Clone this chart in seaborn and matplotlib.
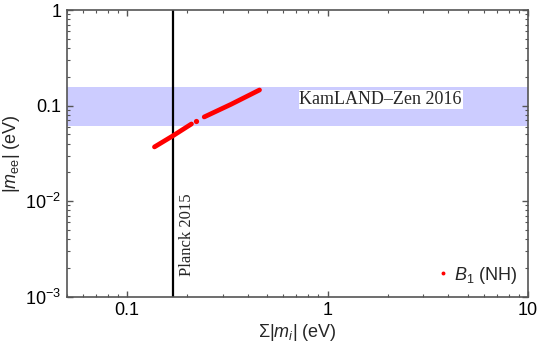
import numpy as np
import pandas as pd
import matplotlib
matplotlib.use("Agg")
import matplotlib.pyplot as plt
from matplotlib.lines import Line2D
from matplotlib.ticker import FixedLocator, FixedFormatter, LogLocator, NullFormatter
import seaborn as sns

# ── Data ───────────────────────────────────────────────────────────────────────
# red allowed region B1 (NH), read as two branches plus an isolated point
SUM_M_BRANCH1 = [0.137, 0.17, 0.2096]
MEE_BRANCH1   = [0.0369, 0.0485, 0.0642]
SUM_M_BRANCH2 = [0.2426, 0.33, 0.458]
MEE_BRANCH2   = [0.076, 0.103, 0.1456]
SUM_M_DOT     = [0.221]
MEE_DOT       = [0.069]

KAMLAND_LOW, KAMLAND_HIGH = 0.061, 0.155
PLANCK_LIMIT = 0.17

X_TICKS  = [0.1, 1, 10]
X_LABELS = ["0.1", "1", "10"]
Y_TICKS  = [1e-3, 1e-2, 0.1, 1]
Y_LABELS = ["10$^{-3}$", "10$^{-2}$", "0.1", "1"]

# ── Style ──────────────────────────────────────────────────────────────────────
sns.set_theme(style="ticks")
plt.rcParams.update({
    "font.family": ["Liberation Sans", "DejaVu Sans"],
    "mathtext.fontset": "custom",
    "mathtext.rm": "Liberation Sans",
    "mathtext.it": "Liberation Sans:italic",
    "axes.edgecolor": "#555555",
    "xtick.color": "#555555", "ytick.color": "#555555",
    "xtick.labelcolor": "black", "ytick.labelcolor": "black",
})

df = pd.DataFrame({
    "sum_m": SUM_M_BRANCH1 + SUM_M_BRANCH2,
    "mee":   MEE_BRANCH1 + MEE_BRANCH2,
    "branch": [1] * len(SUM_M_BRANCH1) + [2] * len(SUM_M_BRANCH2),
})

fig = plt.figure(figsize=(5.4, 3.49), dpi=100)
ax = fig.add_axes([0.1235, 0.150, 0.8543, 0.8213])
ax.set_xscale("log"); ax.set_yscale("log")
ax.set_xlim(0.05, 10); ax.set_ylim(1e-3, 1)

ax.axhspan(KAMLAND_LOW, KAMLAND_HIGH, color="#ccccff", lw=0, zorder=0)
ax.axvline(PLANCK_LIMIT, color="black", lw=1.6, zorder=2)

sns.lineplot(data=df, x="sum_m", y="mee", units="branch", estimator=None,
             sort=False, color="red", lw=3.4, ax=ax, zorder=3,
             solid_capstyle="round")
sns.scatterplot(x=SUM_M_DOT, y=MEE_DOT, color="red", s=14, linewidth=0,
                ax=ax, zorder=3)

ax.text(1.84, 0.116, "KamLAND\u2013Zen 2016", family="Liberation Serif",
        fontsize=13, ha="center", va="center", zorder=4,
        bbox=dict(facecolor="white", edgecolor="none", pad=0.5))
ax.text(0.2, 0.0044, "Planck 2015", family="Liberation Serif",
        fontsize=12, rotation=90, ha="center", va="center", zorder=4)

handle = Line2D([], [], marker="o", color="red", ls="none", markersize=1.8)
ax.legend([handle], ["$B_1$ (NH)"], loc="lower right", frameon=False,
          fontsize=13, handletextpad=0.0, handlelength=1.2,
          borderaxespad=0.3, borderpad=0.3)

ax.xaxis.set_major_locator(FixedLocator(X_TICKS))
ax.xaxis.set_major_formatter(FixedFormatter(X_LABELS))
ax.yaxis.set_major_locator(FixedLocator(Y_TICKS))
ax.yaxis.set_major_formatter(FixedFormatter(Y_LABELS))
ax.xaxis.set_minor_locator(LogLocator(base=10, subs=np.arange(2, 10)))
ax.yaxis.set_minor_locator(LogLocator(base=10, subs=np.arange(2, 10)))
ax.xaxis.set_minor_formatter(NullFormatter())
ax.yaxis.set_minor_formatter(NullFormatter())
ax.tick_params(which="both", direction="in", top=True, right=True,
               labelsize=13, pad=4)
ax.tick_params(which="major", length=4, width=1)
ax.tick_params(which="minor", length=2.5, width=0.8)
for s in ax.spines.values():
    s.set_linewidth(1.2)

ax.set_xlabel("$\\Sigma|m_i|$ (eV)", fontsize=13, labelpad=2)
ax.set_ylabel("$|m_{\\mathrm{ee}}|$ (eV)", fontsize=13, labelpad=2)

fig.savefig("out.png", dpi=100)
